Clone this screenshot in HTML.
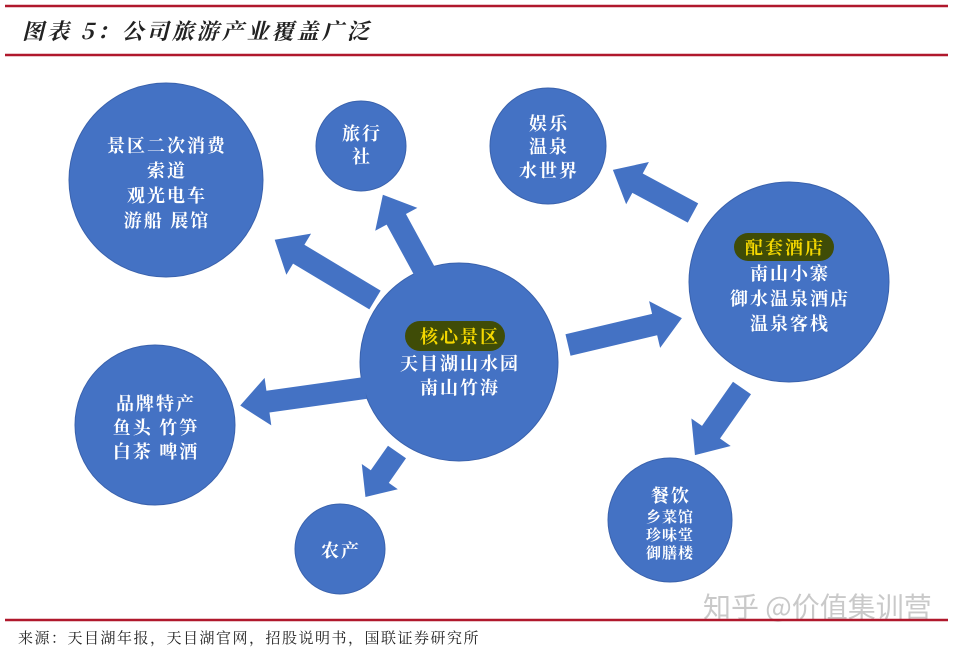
<!DOCTYPE html>
<html><head><meta charset="utf-8"><style>
body{margin:0;width:960px;height:651px;background:#fff;overflow:hidden;position:relative;font-family:"Liberation Serif","Noto Serif CJK SC",serif}
svg{position:absolute;left:0;top:0}
</style></head><body>
<svg width="960" height="651" viewBox="0 0 960 651">
<line x1="5" y1="6" x2="948" y2="6" stroke="#b0182c" stroke-width="2.5"/>
<line x1="5" y1="55" x2="948" y2="55" stroke="#b0182c" stroke-width="2.5"/>
<text x="22" y="39" font-size="22" font-style="italic" font-weight="bold" fill="#222" letter-spacing="3" font-family="'Noto Serif CJK SC',serif">图表 5：公司旅游产业覆盖广泛</text>
<g fill="#4472c4" stroke="#3a62ad" stroke-width="1">
<circle cx="166" cy="180" r="97"/>
<circle cx="361" cy="146" r="45"/>
<circle cx="548" cy="146" r="58"/>
<circle cx="789" cy="282" r="100"/>
<circle cx="459" cy="362" r="99"/>
<circle cx="155" cy="425" r="80"/>
<circle cx="340" cy="549" r="45"/>
<circle cx="670" cy="520" r="62"/>
</g>
<g fill="#4472c4">
<polygon transform="translate(375,300) rotate(-149)" points="0,-11 89,-11 89,-24 117,0 89,24 89,11 0,11"/>
<polygon transform="translate(425,272) rotate(-118.6)" points="0,-11 60,-11 60,-24 88,0 60,24 60,11 0,11"/>
<polygon transform="translate(365,388) rotate(172)" points="0,-11 98,-11 98,-24 126,0 98,24 98,11 0,11"/>
<polygon transform="translate(397,452) rotate(125)" points="0,-11 30,-11 30,-22 55,0 30,22 30,11 0,11"/>
<polygon transform="translate(568,345) rotate(-13.3)" points="0,-11 89,-11 89,-24 117,0 89,24 89,11 0,11"/>
<polygon transform="translate(693,213) rotate(-151.7)" points="0,-11 63,-11 63,-24 91,0 63,24 63,11 0,11"/>
<polygon transform="translate(742,388) rotate(125)" points="0,-11 54,-11 54,-24 82,0 54,24 54,11 0,11"/>
</g>
<rect x="405" y="321" width="100" height="30" rx="15" fill="#3f4c07"/>
<rect x="734" y="233" width="100" height="28" rx="14" fill="#3f4c07"/>
<g fill="#fff" font-weight="bold" font-size="18" text-anchor="middle" letter-spacing="2" font-family="'Noto Serif CJK SC',serif">
<text x="167" y="152">景区二次消费</text>
<text x="167" y="177">索道</text>
<text x="167" y="202">观光电车</text>
<text x="167" y="227">游船 展馆</text>
<text x="362" y="140">旅行</text>
<text x="362" y="163">社</text>
<text x="549" y="130">娱乐</text>
<text x="549" y="153">温泉</text>
<text x="549" y="177">水世界</text>
<text x="460" y="343" fill="#f5d800">核心景区</text>
<text x="460" y="370">天目湖山水园</text>
<text x="460" y="394">南山竹海</text>
<text x="785" y="254" fill="#f5d800">配套酒店</text>
<text x="790" y="280">南山小寨</text>
<text x="790" y="305">御水温泉酒店</text>
<text x="790" y="330">温泉客栈</text>
<text x="156" y="410">品牌特产</text>
<text x="156" y="434">鱼头 竹笋</text>
<text x="156" y="458">白茶 啤酒</text>
<text x="341" y="557">农产</text>
<text x="671" y="502">餐饮</text>
<text x="670" y="522" font-size="15" letter-spacing="1">乡菜馆</text>
<text x="670" y="540" font-size="15" letter-spacing="1">珍味堂</text>
<text x="670" y="558" font-size="15" letter-spacing="1">御膳楼</text>
</g>
<text x="703" y="617" font-size="28" fill="#c9c9c9" font-family="'Noto Sans CJK SC',sans-serif">知乎 @价值集训营</text>
<line x1="5" y1="620" x2="948" y2="620" stroke="#b0182c" stroke-width="2.5"/>
<text x="18" y="643" font-size="15" fill="#222" letter-spacing="1.5" font-family="'Noto Serif CJK SC',serif">来源：天目湖年报，天目湖官网，招股说明书，国联证券研究所</text>
</svg>
</body></html>
